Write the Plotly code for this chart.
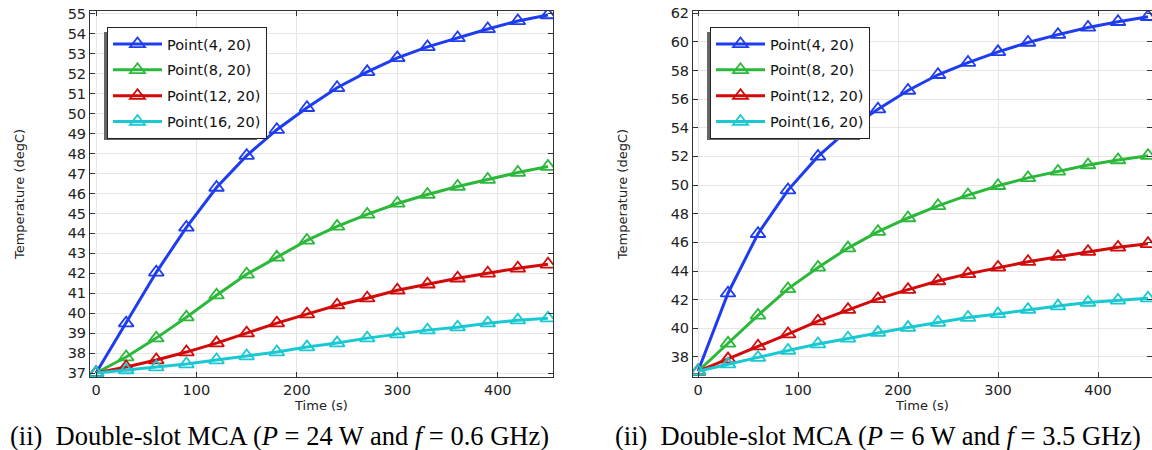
import plotly.graph_objects as go

time_s = [0, 30, 60, 90, 120, 150, 180, 210, 240, 270, 300, 330, 360, 390, 420, 450]
series_names = ["Point(4, 20)", "Point(8, 20)", "Point(12, 20)", "Point(16, 20)"]
colors = ["#1e3cf0", "#2cb83a", "#d20a0a", "#1ac8d2"]

left_p4 = [37.0, 39.5, 42.05, 44.3, 46.3, 47.9, 49.2, 50.3, 51.3, 52.1, 52.8, 53.35, 53.8, 54.25, 54.65, 54.95]
left_p8 = [37.0, 37.8, 38.75, 39.8, 40.9, 41.95, 42.8, 43.65, 44.35, 44.95, 45.5, 45.95, 46.35, 46.7, 47.05, 47.35]
left_p12 = [37.0, 37.3, 37.65, 38.05, 38.5, 39.0, 39.5, 39.95, 40.4, 40.75, 41.15, 41.45, 41.75, 42.0, 42.25, 42.45]
left_p16 = [37.0, 37.15, 37.3, 37.45, 37.65, 37.85, 38.05, 38.3, 38.5, 38.75, 38.95, 39.15, 39.3, 39.5, 39.65, 39.75]

right_p4 = [37.0, 42.45, 46.6, 49.65, 52.0, 53.85, 55.3, 56.6, 57.7, 58.55, 59.3, 59.95, 60.5, 61.0, 61.4, 61.75]
right_p8 = [37.0, 38.95, 40.9, 42.75, 44.25, 45.6, 46.75, 47.7, 48.55, 49.3, 49.95, 50.5, 50.95, 51.4, 51.75, 52.05]
right_p12 = [37.0, 37.85, 38.75, 39.6, 40.5, 41.3, 42.05, 42.7, 43.3, 43.8, 44.25, 44.65, 45.0, 45.35, 45.65, 45.9]
right_p16 = [37.0, 37.5, 37.95, 38.45, 38.9, 39.3, 39.7, 40.05, 40.4, 40.75, 41.0, 41.3, 41.55, 41.8, 41.95, 42.1]

left_series = [left_p4, left_p8, left_p12, left_p16]
right_series = [right_p4, right_p8, right_p12, right_p16]

left_yticks = list(range(37, 56))
right_yticks = list(range(38, 63, 2))
xticks = [0, 100, 200, 300, 400]

captions = [
    "(ii)  Double-slot MCA (<i>P</i> = 24 W and <i>f</i> = 0.6 GHz)",
    "(ii)  Double-slot MCA (<i>P</i> = 6 W and <i>f</i> = 3.5 GHz)",
]

W, H = 1152, 450
tick_font = dict(family="DejaVu Sans", size=14.5, color="#222222")
title_font = dict(family="DejaVu Sans", size=13, color="#222222")

fig = go.Figure()

for k, ys in enumerate(left_series):
    fig.add_trace(go.Scatter(
        x=time_s, y=ys, name=series_names[k], mode="lines+markers",
        line=dict(color=colors[k], width=3),
        marker=dict(symbol="triangle-up-open", size=13, line=dict(width=1.8, color=colors[k])),
        xaxis="x", yaxis="y", legend="legend", legendgroup="L%d" % k,
    ))
for k, ys in enumerate(right_series):
    fig.add_trace(go.Scatter(
        x=time_s, y=ys, name=series_names[k], mode="lines+markers",
        line=dict(color=colors[k], width=3),
        marker=dict(symbol="triangle-up-open", size=13, line=dict(width=1.8, color=colors[k])),
        xaxis="x2", yaxis="y2", legend="legend2", legendgroup="R%d" % k,
    ))

ydom = [1 - 377 / H, 1 - 11 / H]
ax_common = dict(
    showline=True, linecolor="#333333", linewidth=1, mirror="ticks",
    ticks="inside", ticklen=5, tickcolor="#333333",
    showgrid=True, gridcolor="#e6e6e6", gridwidth=1,
    zeroline=False, tickfont=tick_font, automargin=False,
)

legend_common = dict(
    bgcolor="white", bordercolor="#222222", borderwidth=1,
    font=dict(family="DejaVu Sans", size=14.5, color="#111111"),
    tracegroupgap=4, xanchor="left", yanchor="top", itemwidth=49,
    entrywidth=104, entrywidthmode="pixels",
)

fig.update_layout(
    width=W, height=H,
    margin=dict(l=0, r=0, t=0, b=0, autoexpand=False),
    paper_bgcolor="white", plot_bgcolor="white",
    showlegend=True,
    xaxis=dict(domain=[90 / W, 553 / W], range=[-6, 455], tickvals=xticks,
               title=dict(text="Time (s)", font=title_font, standoff=0),
               anchor="y", **ax_common),
    yaxis=dict(domain=ydom, range=[36.8, 55.15], tickvals=left_yticks,
               title=dict(text="Temperature (degC)", font=title_font, standoff=40),
               anchor="x", **ax_common),
    xaxis2=dict(domain=[693 / W, 1.0], range=[-5, 454], tickvals=xticks,
                title=dict(text="Time (s)", font=title_font, standoff=0),
                anchor="y2", **ax_common),
    yaxis2=dict(domain=ydom, range=[36.6, 62.15], tickvals=right_yticks,
                title=dict(text="Temperature (degC)", font=title_font, standoff=40),
                anchor="x2", **ax_common),
    legend=dict(x=107 / W, y=1 - 27 / H, **legend_common),
    legend2=dict(x=710 / W, y=1 - 27 / H, **legend_common),
)

# legend shadows (offset down-left)
for x0 in (107, 710):
    fig.add_shape(type="rect", xref="paper", yref="paper",
                  x0=(x0 - 3) / W, x1=(x0 + 150) / W,
                  y0=1 - 140 / H, y1=1 - 32 / H,
                  fillcolor="#666666", line=dict(width=0), layer="above")

fig.add_annotation(text=captions[0], xref="paper", yref="paper", x=279 / W, y=1 - 436 / H,
                   showarrow=False, xanchor="center", yanchor="middle",
                   font=dict(family="Liberation Serif", size=26.5, color="black"))
fig.add_annotation(text=captions[1], xref="paper", yref="paper", x=878 / W, y=1 - 436 / H,
                   showarrow=False, xanchor="center", yanchor="middle",
                   font=dict(family="Liberation Serif", size=26.5, color="black"))

fig.write_html("out.html", config={"displayModeBar": False},
               post_script="document.body.style.margin='0px';document.body.style.overflow='hidden';")
